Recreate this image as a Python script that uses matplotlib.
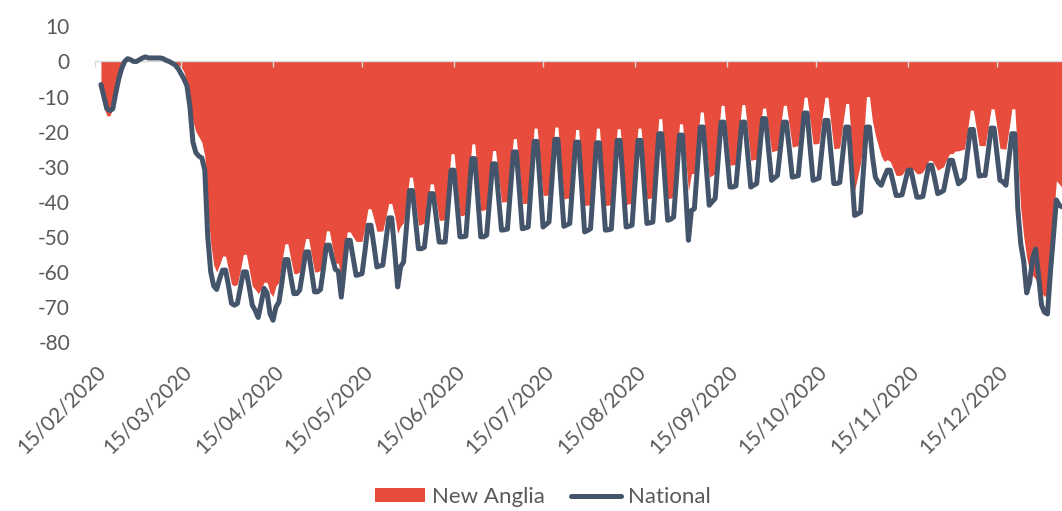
import numpy as np
import pandas as pd
import matplotlib
matplotlib.use("Agg")
import matplotlib.pyplot as plt
from matplotlib.lines import Line2D
from matplotlib.patches import Patch

# ---------------- data ----------------
axis_origin = "2020-02-15"
start_date = "2020-02-17"
axis_end_days = 325.9

tick_labels = ["15/02/2020", "15/03/2020", "15/04/2020", "15/05/2020",
               "15/06/2020", "15/07/2020", "15/08/2020", "15/09/2020",
               "15/10/2020", "15/11/2020", "15/12/2020"]
y_ticks = [10, 0, -10, -20, -30, -40, -50, -60, -70, -80]

national = [
    -6.6,
    -10, -13.5, -14, -13.5, -9, -5, -2,
    0, 0.8, 0.5, 0, 0, 0.5, 1,
    1.3, 1, 1, 1, 1, 1, 0.8,
    0.3, 0, -0.5, -1, -2, -3.5, -5,
    -7, -13, -23, -26, -27, -27.5, -31,
    -50, -60, -64, -65, -62, -59.5, -59.5,
    -64, -69, -69.5, -69, -64.5, -60, -60,
    -64.5, -69.5, -71, -73, -69, -64.7, -66,
    -72, -73.8, -70, -68.6, -63, -56.5, -56.5,
    -61.5, -66.2, -66.2, -65.2, -60, -54.3, -54.3,
    -60, -65.7, -65.7, -65, -59, -52.4, -52.4,
    -56, -59.3, -59.8, -67.2, -59, -51, -51,
    -56, -61, -60.8, -60.5, -54, -46.7, -46.7,
    -52.5, -58.6, -58.3, -58.1, -51.5, -44.6, -44.6,
    -54, -64.3, -58.5, -57.2, -47, -36.8, -36.8,
    -45, -53.4, -53.4, -53, -45.5, -37.7, -37.7,
    -44.5, -51.5, -51.5, -51.5, -41.5, -31, -31,
    -40.5, -50, -50, -49.8, -38.5, -27.7, -27.7,
    -39, -50, -50, -49.5, -39.5, -29.2, -29.2,
    -38.5, -48.1, -48, -47.8, -37, -25.8, -25.8,
    -36.5, -47.7, -47.5, -47.2, -35, -22.8, -22.8,
    -35, -47.2, -46.5, -45.8, -34, -22.2, -22.2,
    -34.5, -47, -46.6, -46.2, -34.5, -23, -23,
    -35.5, -48.6, -48.2, -47.7, -35.5, -23.2, -23.2,
    -35.5, -48.1, -48, -47.8, -35, -22.5, -22.5,
    -35, -47.2, -47, -46.7, -34.5, -22.5, -22.5,
    -34.5, -46.2, -46, -45.8, -33, -20.6, -20.6,
    -33, -45.3, -45, -44.4, -33, -21, -21,
    -36, -51, -42.5, -42, -30.5, -18.7, -18.7,
    -30, -41, -40, -39.1, -28, -17.3, -17.3,
    -26.5, -35.8, -35.8, -35.5, -26.5, -17.3, -17.3,
    -26.5, -35.8, -35.3, -34.8, -25.5, -16.3, -16.3,
    -25, -33.9, -33.2, -32.5, -25, -17.3, -17.3,
    -25, -33, -32.8, -32.6, -23.5, -14.7, -14.7,
    -24.5, -33.9, -33.6, -33.3, -25, -16.8, -16.8,
    -26, -34.8, -34.8, -34.5, -26.5, -18.7, -18.7,
    -31, -43.9, -43.5, -43, -31, -18.7, -18.7,
    -27, -33, -34.5, -35.3, -33, -31, -31,
    -34.5, -38.2, -38.2, -38, -34.5, -31, -31,
    -35, -38.7, -38.7, -38.5, -34, -29.6, -29.6,
    -33.5, -37.7, -37.3, -36.8, -32.5, -28.2, -28.2,
    -31.5, -34.9, -34.2, -33.4, -26.5, -19.4, -19.4,
    -26, -32.7, -32.5, -32.5, -26, -19, -19,
    -26.5, -33.9, -34.3, -35.3, -28, -20.6, -20.6,
    -42, -52, -57, -66, -63, -56, -53.5,
    -61, -69.5, -71.5, -72, -60, -50, -39.5,
    -41, -41.5,
]

new_anglia = [
    -8,
    -13, -15.5, -15.5, -13.5, -9, -4.5, -2,
    0, 0, 0, 0, 0, 0, 0,
    0, 0, 0, 0, 0, 0, 0,
    0, -0.3, -0.5, -0.8, -1, -1.5, -3,
    -6, -12, -17, -20, -21.5, -23, -27,
    -42, -52, -58, -60, -58, -55.5, -55.5,
    -59.5, -63.5, -64, -63.5, -59.5, -55, -55,
    -59.5, -64, -65, -66.2, -65, -62.9, -63,
    -66, -67, -64, -63, -57, -52, -52,
    -56.5, -60.5, -60.5, -60, -55, -50.5, -50.5,
    -55.5, -60, -60, -59.5, -54, -48.3, -48.3,
    -53, -57.5, -57.5, -62, -55, -48.6, -48.6,
    -50, -51.3, -51.3, -51.3, -47, -42, -42,
    -45, -48.4, -48.4, -48.3, -44.5, -40.5, -40.5,
    -44, -49, -47, -46, -40, -33, -33,
    -40, -46.7, -46.5, -46, -41, -34.9, -34.9,
    -40, -45.3, -45.3, -45, -36, -26.3, -26.3,
    -35, -44, -43.9, -43.5, -34, -23.5, -23.5,
    -33.5, -42.5, -42.4, -42, -34, -25.4, -25.4,
    -33, -40.1, -40, -40, -31, -22, -22,
    -31, -40.5, -40.5, -40.3, -30, -19, -19,
    -29, -38.2, -38.2, -38, -28.5, -18.7, -18.7,
    -29, -39.2, -39, -39, -29.5, -19.4, -19.4,
    -30, -41, -41, -40.8, -30, -19, -19,
    -30, -41, -41, -40.8, -30, -19.2, -19.2,
    -30, -40.8, -40.6, -40.5, -30, -19, -19,
    -29, -39.2, -39, -38.8, -27.5, -16.3, -16.3,
    -27.5, -39.1, -39, -38.5, -28, -17.8, -17.8,
    -27, -37, -32, -31.9, -23, -14.4, -14.4,
    -23.5, -33, -32.5, -32, -22, -12.5, -12.5,
    -21, -29.6, -29.5, -29.3, -21, -12.3, -12.3,
    -20, -28.2, -28, -27.8, -20.5, -13.3, -13.3,
    -19.5, -25.8, -25.5, -25.3, -19, -12.5, -12.5,
    -18.5, -24.4, -24.2, -24, -17, -10.2, -10.2,
    -17, -23.5, -23.5, -23.3, -16.5, -10.2, -10.2,
    -17.5, -24.9, -24.8, -24.6, -18, -12, -12,
    -24, -36.8, -33, -29, -22, -10, -10,
    -17, -21, -24, -27, -28.5, -28, -28.5,
    -30.5, -32.5, -32.5, -32.3, -31, -30.3, -30.3,
    -31, -32, -32, -31.5, -30, -28.2, -28.2,
    -29.5, -31, -30.5, -30, -28, -26.3, -26.3,
    -25.5, -25.5, -25.2, -25, -20, -13.9, -13.9,
    -19, -24, -24, -24, -19, -13.5, -13.5,
    -19, -24.8, -24.9, -25, -19.5, -13.5, -13.5,
    -28, -42, -50, -56, -60, -61, -62,
    -64, -66, -67, -66.5, -58, -45, -34,
    -35, -36,
]

# ---------------- styling ----------------
RED = "#E74C3C"
SLATE = "#44546A"
TEXT = "#595959"
AXIS_GREY = "#D9D9D9"
FONT = ["Lato", "DejaVu Sans"]
plt.rcParams["font.family"] = FONT

origin = pd.Timestamp(axis_origin)
dates = pd.date_range(start_date, periods=len(national), freq="D")
x = np.asarray((dates - origin).days, dtype=float)
tick_pos = [(pd.to_datetime(t, format="%d/%m/%Y") - origin).days for t in tick_labels]

W, H = 1062, 511
fig = plt.figure(figsize=(W / 100, H / 100), dpi=100)
ax_left, ax_right = 95 / W, 1.0
ax_top, ax_bottom = 1 - 26.4 / H, 1 - 342 / H
ax = fig.add_axes([ax_left, ax_bottom, ax_right - ax_left, ax_top - ax_bottom])

ax.fill_between(x, new_anglia, 0, color=RED, linewidth=0, zorder=1)
ax.plot(x, national, color=SLATE, linewidth=3.6, solid_joinstyle="round",
        solid_capstyle="round", zorder=3)

ax.set_xlim(0, axis_end_days)
ax.set_ylim(-80, 10)

for s in ("left", "right", "top"):
    ax.spines[s].set_visible(False)
ax.spines["bottom"].set_position(("data", 0))
ax.spines["bottom"].set_color(AXIS_GREY)
ax.spines["bottom"].set_linewidth(1.0)
ax.spines["bottom"].set_zorder(2)

ax.set_xticks(tick_pos)
ax.tick_params(axis="x", direction="out", length=4.5, width=1.0,
               color=AXIS_GREY, labelbottom=False)
ax.set_yticks(y_ticks)
ax.set_yticklabels([str(v) for v in y_ticks])
ax.tick_params(axis="y", length=0, pad=18, labelsize=15, labelcolor=TEXT)

sec = ax.secondary_xaxis("bottom")
sec.set_xticks(tick_pos)
sec.set_xticklabels(tick_labels)
sec.tick_params(axis="x", length=0, pad=14, labelsize=15, labelcolor=TEXT)
for s in sec.spines.values():
    s.set_visible(False)
for lab in sec.get_xticklabels():
    lab.set_rotation(45)
    lab.set_ha("right")
    lab.set_rotation_mode("anchor")

handles = [Patch(facecolor=RED, edgecolor="none", label="New Anglia"),
           Line2D([0], [0], color=SLATE, linewidth=3.6, solid_capstyle="round",
                  label="National")]
fig.legend(handles=handles, loc="center", ncol=2, frameon=False,
           bbox_to_anchor=(543 / W, 1 - 497 / H), fontsize=16,
           labelcolor=TEXT, handlelength=2.25, handleheight=0.55,
           handletextpad=0.32, columnspacing=1.15)

fig.savefig("out.png", dpi=100)
